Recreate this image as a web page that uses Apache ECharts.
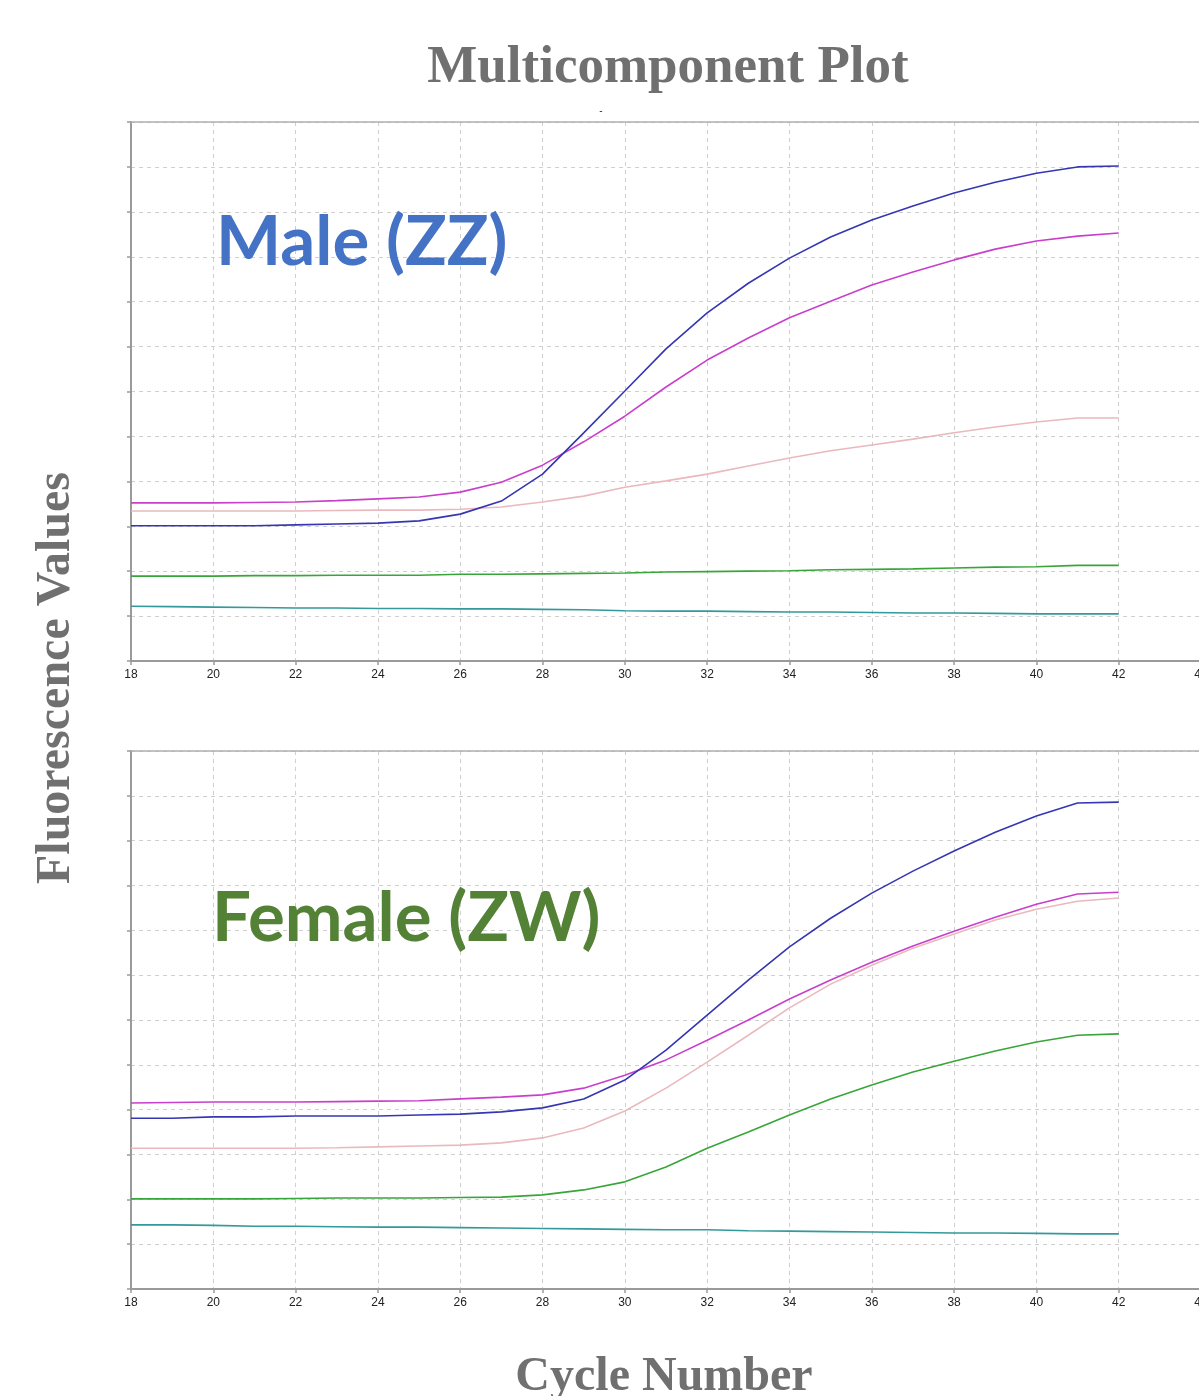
<!DOCTYPE html>
<html>
<head>
<meta charset="utf-8">
<script src="https://cdn.jsdelivr.net/npm/echarts@6/dist/echarts.min.js"></script>
<style>
html,body{margin:0;padding:0;background:#fff;}
#chart{width:1199px;height:1396px;}
</style>
</head>
<body>
<div id="chart"></div>
<script>
// ---- Data ----
var cycles = [18,19,20,21,22,23,24,25,26,27,28,29,30,31,32,33,34,35,36,37,38,39,40,41,42];
var xTicks = [18,20,22,24,26,28,30,32,34,36,38,40,42,44];

// Male (ZZ) panel
var maleBlue    = [3.01,3.01,3.01,3.01,3.03,3.05,3.07,3.12,3.27,3.56,4.16,5.08,6.01,6.95,7.75,8.41,8.97,9.44,9.82,10.13,10.42,10.66,10.86,11.00,11.02];
var maleMagenta = [3.52,3.52,3.52,3.53,3.54,3.57,3.61,3.65,3.76,3.98,4.36,4.88,5.45,6.10,6.70,7.19,7.64,8.01,8.37,8.66,8.93,9.17,9.35,9.46,9.53];
var malePink    = [3.34,3.34,3.34,3.34,3.34,3.35,3.36,3.36,3.38,3.43,3.54,3.67,3.87,4.01,4.16,4.34,4.52,4.68,4.81,4.94,5.08,5.21,5.32,5.41,5.41];
var maleGreen   = [1.89,1.89,1.89,1.90,1.90,1.91,1.91,1.91,1.93,1.93,1.94,1.95,1.96,1.98,1.99,2.00,2.01,2.03,2.04,2.05,2.07,2.09,2.10,2.13,2.13];
var maleTeal    = [1.22,1.21,1.20,1.19,1.18,1.18,1.17,1.17,1.16,1.16,1.15,1.14,1.12,1.11,1.11,1.10,1.09,1.09,1.08,1.07,1.07,1.06,1.05,1.05,1.05];

// Female (ZW) panel
var femaleBlue    = [3.81,3.81,3.84,3.84,3.86,3.86,3.86,3.88,3.90,3.95,4.04,4.24,4.66,5.33,6.11,6.89,7.63,8.27,8.83,9.32,9.77,10.19,10.55,10.84,10.86];
var femaleMagenta = [4.15,4.16,4.17,4.17,4.17,4.18,4.19,4.20,4.24,4.28,4.33,4.48,4.77,5.11,5.55,6.00,6.47,6.89,7.29,7.65,7.98,8.29,8.58,8.81,8.85];
var femalePink    = [3.14,3.14,3.14,3.14,3.14,3.15,3.17,3.19,3.21,3.26,3.37,3.59,3.97,4.48,5.06,5.66,6.27,6.80,7.22,7.60,7.92,8.23,8.47,8.65,8.72];
var femaleGreen   = [2.01,2.01,2.01,2.01,2.02,2.03,2.03,2.03,2.04,2.05,2.10,2.21,2.39,2.72,3.14,3.50,3.88,4.24,4.55,4.84,5.08,5.31,5.51,5.66,5.69];
var femaleTeal    = [1.43,1.43,1.42,1.40,1.40,1.39,1.38,1.38,1.37,1.36,1.35,1.34,1.33,1.32,1.32,1.30,1.29,1.28,1.27,1.26,1.25,1.25,1.24,1.23,1.23];

var titleText = 'Multicomponent Plot';
var yTitle = 'Fluorescence Values';
var xTitle = 'Cycle Number';
var maleLabel = 'Male (ZZ)';
var femaleLabel = 'Female (ZW)';

// ---- Build ----
var colors = {blue:'#3636b2', magenta:'#c93fcc', pink:'#e9b9bd', green:'#38a538', teal:'#34999a'};
function pairs(arr){ return cycles.map(function(c,i){ return [c, arr[i]]; }); }
function mk(name, arr, color, idx){
  return {type:'line', name:name, xAxisIndex: idx*2, yAxisIndex: idx, data: pairs(arr),
    showSymbol:false, symbol:'none', smooth:false, animation:false,
    lineStyle:{color:color, width:1.6}, itemStyle:{color:color}, z: 3};
}
function bottomX(gi){
  return {type:'value', gridIndex:gi, min:18, max:44, interval:2, position:'bottom',
    axisLine:{show:true, onZero:false, lineStyle:{color:'#9a9a9a', width:2}},
    axisTick:{show:true, length:4, lineStyle:{color:'#9a9a9a', width:1.5}},
    axisLabel:{show:true, color:'#222', fontSize:12, margin:8, fontFamily:'Liberation Sans, Arial, sans-serif',
      showMinLabel:true, showMaxLabel:true, hideOverlap:false,
      formatter:function(v){ return xTicks.indexOf(v) >= 0 ? String(v) : ''; }},
    splitLine:{show:true, lineStyle:{color:'#cfcfcf', type:[4,4], width:1}}};
}
function topX(gi){
  return {type:'value', gridIndex:gi, min:18, max:44, position:'top',
    axisLine:{show:true, onZero:false, lineStyle:{color:'#b0b0b0', width:1.5}},
    axisTick:{show:false}, axisLabel:{show:false}, splitLine:{show:false}};
}
function yAx(gi){
  return {type:'value', gridIndex:gi, min:0, max:12, interval:1,
    axisLine:{show:true, onZero:false, lineStyle:{color:'#9a9a9a', width:2}},
    axisTick:{show:true, length:4, lineStyle:{color:'#9a9a9a', width:1.5}},
    axisLabel:{show:false},
    splitLine:{show:true, lineStyle:{color:'#cfcfcf', type:[4,4], width:1}}};
}

var serif = '"Liberation Serif", "Times New Roman", serif';
var option = {
  backgroundColor:'#ffffff',
  animation:false,
  grid:[
    {left:131, top:122, width:1070, height:539, containLabel:false, outerBoundsMode:'none'},
    {left:131, top:751, width:1070, height:538, containLabel:false, outerBoundsMode:'none'}
  ],
  xAxis:[bottomX(0), topX(0), bottomX(1), topX(1)],
  yAxis:[yAx(0), yAx(1)],
  series:[
    mk('Teal', maleTeal, colors.teal, 0),
    mk('Green', maleGreen, colors.green, 0),
    mk('Pink', malePink, colors.pink, 0),
    mk('Magenta', maleMagenta, colors.magenta, 0),
    mk('Blue', maleBlue, colors.blue, 0),
    mk('Teal', femaleTeal, colors.teal, 1),
    mk('Green', femaleGreen, colors.green, 1),
    mk('Pink', femalePink, colors.pink, 1),
    mk('Magenta', femaleMagenta, colors.magenta, 1),
    mk('Blue', femaleBlue, colors.blue, 1)
  ],
  graphic:[
    {type:'text', x:668, y:68, z:10, style:{text:titleText, fill:'#707070', fontFamily:serif, fontWeight:'bold', fontSize:53, textAlign:'center', textVerticalAlign:'middle'}},
    {type:'text', x:601, y:111, z:10, style:{text:'-', fill:'#333', fontFamily:'Liberation Sans', fontSize:10, textAlign:'center', textVerticalAlign:'middle'}},
    {type:'text', x:57, y:678, rotation:Math.PI/2, z:10, style:{text:yTitle, fill:'#707070', fontFamily:serif, fontWeight:'bold', fontSize:48, textAlign:'center', textVerticalAlign:'middle'}},
    {type:'text', x:664, y:1378, z:10, style:{text:xTitle, fill:'#707070', fontFamily:serif, fontWeight:'bold', fontSize:48, textAlign:'center', textVerticalAlign:'middle'}},
    {type:'text', x:216, y:243, z:10, style:{text:maleLabel, fill:'#4472c4', fontFamily:'Lato, "Open Sans", sans-serif', fontWeight:'bold', fontSize:69, textAlign:'left', textVerticalAlign:'middle'}},
    {type:'text', x:212, y:919, z:10, style:{text:femaleLabel, fill:'#538135', fontFamily:'Lato, "Open Sans", sans-serif', fontWeight:'bold', fontSize:69, textAlign:'left', textVerticalAlign:'middle'}}
  ]
};
var chart = echarts.init(document.getElementById('chart'), null, {renderer:'canvas'});
chart.setOption(option);
</script>
</body>
</html>
